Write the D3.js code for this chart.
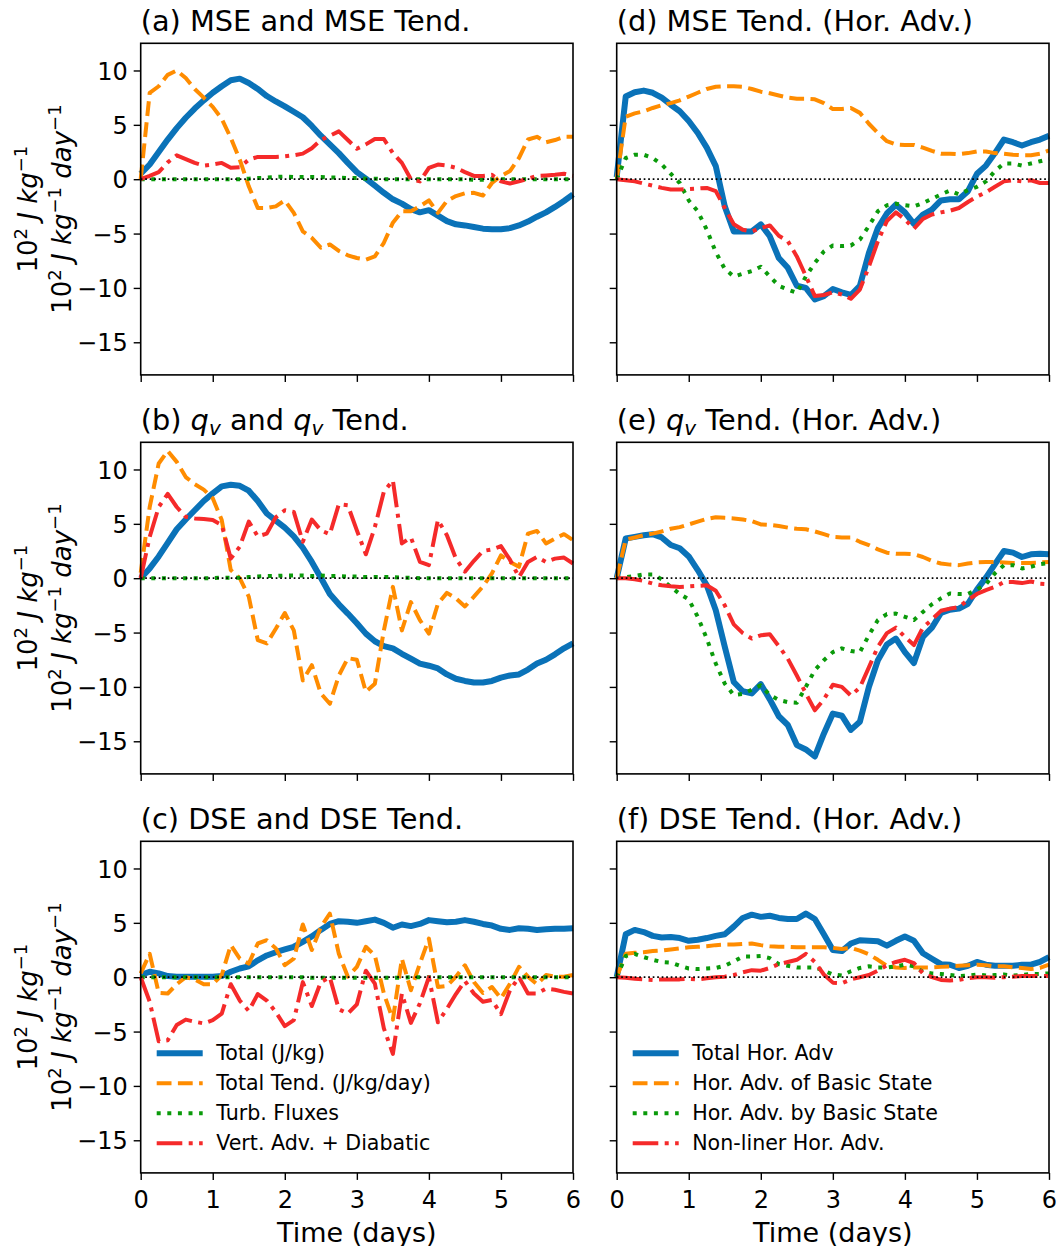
<!DOCTYPE html>
<html>
<head>
<meta charset="utf-8">
<script src="https://cdn.jsdelivr.net/npm/d3@7"></script>
<style>
  body { margin: 0; background: #fff; }
  text { font-family: "DejaVu Sans", sans-serif; fill: #000; }
</style>
</head>
<body>
<svg id="fig"></svg>
<script>
// tiempo en dias (cada 3 horas)
var days = [0, 0.125, 0.25, 0.375, 0.5, 0.625, 0.75, 0.875, 1, 1.125, 1.25, 1.375, 1.5, 1.625, 1.75, 1.875,
  2, 2.125, 2.25, 2.375, 2.5, 2.625, 2.75, 2.875, 3, 3.125, 3.25, 3.375, 3.5, 3.625, 3.75, 3.875,
  4, 4.125, 4.25, 4.375, 4.5, 4.625, 4.75, 4.875, 5, 5.125, 5.25, 5.375, 5.5, 5.625, 5.75, 5.875, 6];

// (a) MSE
var mseTotal = [0.5, 1.35, 2.5, 3.65, 4.7, 5.65, 6.5, 7.25, 7.95, 8.55, 9.1, 9.25, 8.85, 8.3, 7.65, 7.15,
  6.7, 6.2, 5.7, 4.9, 4.0, 3.2, 2.4, 1.5, 0.65, 0.05, -0.6, -1.25, -1.85, -2.25, -2.75, -3.05,
  -2.85, -3.35, -3.85, -4.15, -4.25, -4.4, -4.55, -4.6, -4.6, -4.5, -4.25, -3.9, -3.45, -3.05, -2.55, -2.0, -1.4];
var mseTend = [0, 7.95, 8.55, 9.6, 10.0, 9.3, 8.3, 7.5, 6.65, 5.55, 3.8, 1.8, -0.65, -2.65, -2.65, -2.5,
  -1.95, -3.1, -4.8, -5.4, -6.3, -6.0, -6.6, -7.0, -7.25, -7.4, -7.1, -5.85, -4.0, -2.95, -2.95, -2.5,
  -1.95, -3.1, -2.0, -1.55, -1.3, -1.25, -1.5, -0.35, 0.3, 0.75, 1.95, 3.65, 3.9, 3.4, 3.6, 3.9, 3.9];
var mseTurb = [0, 0, 0, 0, 0, 0, 0, 0, 0, 0, 0, 0, 0.05, 0.1, 0.15, 0.2,
  0.25, 0.2, 0.2, 0.2, 0.2, 0.15, 0.15, 0.1, 0.1, 0.05, 0.05, 0, 0, 0, 0, 0,
  0, 0, 0, 0, 0, -0.05, -0.05, 0, 0, 0, 0, 0, 0, 0, 0, 0, 0];
var mseVert = [0, 0.3, 0.65, 1.55, 2.2, 1.85, 1.5, 1.25, 1.35, 1.5, 1.05, 1.1, 1.8, 2.05, 2.05, 2.05,
  2.1, 2.2, 2.35, 2.85, 3.6, 4.0, 4.4, 3.6, 2.8, 3.2, 3.7, 3.7, 2.4, 1.5, 0, -0.2,
  1.05, 1.35, 1.25, 1.05, 0.65, 0.3, 0.3, 0.4, -0.2, -0.4, -0.2, 0.05, 0.3, 0.35, 0.4, 0.5, 0.3];

// (b) qv
var qvTotal = [0, 0.9, 2.0, 3.25, 4.5, 5.4, 6.25, 7.1, 7.8, 8.45, 8.6, 8.5, 8.05, 7.1, 5.95, 5.3,
  4.65, 3.85, 2.8, 1.5, 0.05, -1.45, -2.4, -3.25, -4.15, -5.1, -5.8, -6.25, -6.45, -6.95, -7.4, -7.85,
  -8.05, -8.3, -8.85, -9.25, -9.45, -9.6, -9.6, -9.45, -9.15, -8.95, -8.85, -8.4, -7.85, -7.5, -7.0, -6.45, -6.0];
var qvTend = [0.5, 6.55, 10.55, 11.7, 10.7, 9.3, 8.65, 8.15, 7.35, 5.35, 0.75, 0, -1.7, -5.7, -6.0, -4.65,
  -3.2, -4.8, -9.4, -8.0, -10.6, -11.55, -8.95, -7.35, -7.5, -10.45, -9.7, -4.8, -0.8, -4.8, -2.2, -3.85,
  -5.1, -2.35, -1.35, -1.85, -2.6, -1.7, -0.75, 0.45, 2.1, 1.5, 1.05, 4.1, 4.35, 3.2, 3.65, 4.05, 3.5];
var qvTurb = [0, 0, 0, 0, 0, 0, 0, 0, 0, 0.05, 0.05, 0.05, 0.1, 0.15, 0.2, 0.2,
  0.25, 0.25, 0.25, 0.2, 0.25, 0.2, 0.2, 0.15, 0.15, 0.1, 0.1, 0.1, 0.1, 0.05, 0.05, 0,
  0, 0, 0, 0, 0, 0, 0, 0, 0, 0, 0, 0, 0, 0, 0, 0, 0];
var qvVert = [0, 3.8, 6.55, 7.75, 6.55, 5.65, 5.5, 5.45, 5.35, 4.9, 1.8, 2.9, 5.2, 3.85, 4.1, 5.6,
  6.25, 6.1, 3.35, 5.4, 4.4, 4.05, 6.8, 6.7, 4.4, 2.2, 4.7, 7.95, 9.0, 3.2, 3.75, 1.5,
  1.2, 5.35, 3.95, 1.8, 0.6, 1.6, 2.5, 2.65, 2.95, 1.7, 0.1, 1.5, 1.95, 1.5, 1.8, 1.9, 1.35];

// (c) DSE
var dseTotal = [0.2, 0.5, 0.35, 0.1, 0.05, 0.05, 0.05, 0.05, 0.05, 0.1, 0.5, 0.8, 1.0, 1.55, 2.0, 2.3,
  2.55, 2.8, 3.25, 3.75, 4.35, 4.9, 5.15, 5.1, 5.0, 5.15, 5.3, 5.0, 4.55, 4.85, 4.7, 4.9,
  5.25, 5.15, 5.05, 5.1, 5.25, 5.1, 4.9, 4.75, 4.45, 4.35, 4.5, 4.45, 4.35, 4.4, 4.45, 4.45, 4.5];
var dseTend = [0.35, 2.15, -1.45, -1.5, -0.65, 0, -0.2, -0.65, -0.65, 0.2, 2.95, 1.7, 1.25, 3.1, 3.4, 2.65,
  1.1, 1.7, 4.85, 2.5, 4.6, 5.85, 2.15, 0.05, 0.95, 2.8, 2.0, -1.5, -3.9, 1.7, -1.2, 1.25,
  3.55, -0.9, -0.8, 0.05, 1.1, -0.45, -1.45, -0.9, -1.95, -0.6, 0.95, 0.05, -0.65, 0.2, 0.05, 0.05, 0.2];
var dseTurb = [0, 0, 0, 0, 0, 0, 0, 0, 0, 0, 0, 0, 0, 0, 0, 0,
  0, 0, 0, -0.05, -0.05, -0.05, -0.05, -0.05, -0.05, -0.05, -0.05, -0.05, -0.05, -0.05, 0, 0,
  0, 0, 0, 0, 0, 0, 0, 0, 0, 0, 0, 0, 0, 0, 0, 0, 0];
var dseVert = [0, -2.25, -5.9, -5.8, -4.4, -3.9, -4.1, -4.25, -3.95, -3.35, -0.65, -2.15, -3.1, -1.55, -2.15, -3.2,
  -4.5, -3.95, -0.45, -2.65, -0.45, 0, -2.95, -3.35, -2.5, 0.6, -0.6, -4.7, -7.05, -1.5, -4.2, -2.4,
  0, -4.15, -2.9, -1.55, -0.35, -1.5, -2.25, -2.1, -3.4, -1.2, 0, -1.5, -1.5, -1.05, -1.15, -1.35, -1.5];

// (d) MSE Hor. Adv.
var mseHorTotal = [0.2, 7.6, 8.0, 8.15, 7.95, 7.5, 6.85, 6.25, 5.35, 4.25, 2.9, 1.2, -2.5, -4.8, -4.8, -4.8,
  -4.15, -5.25, -7.25, -8.15, -9.8, -10.0, -11.05, -10.75, -10.1, -10.4, -10.65, -9.8, -6.8, -4.5, -3.15, -2.35,
  -3.05, -4.1, -3.25, -2.8, -1.95, -1.85, -1.85, -1.1, 0.5, 1.25, 2.4, 3.65, 3.4, 3.1, 3.4, 3.65, 4.0];
var mseHorOf = [0, 5.75, 6.05, 6.25, 6.55, 6.8, 7.0, 7.25, 7.6, 7.95, 8.3, 8.5, 8.55, 8.55, 8.5, 8.3,
  8.05, 7.9, 7.7, 7.5, 7.4, 7.4, 7.35, 7.0, 6.45, 6.45, 6.55, 6.1, 5.1, 4.25, 3.5, 3.2,
  3.15, 3.15, 2.9, 2.6, 2.35, 2.35, 2.3, 2.4, 2.55, 2.55, 2.4, 2.35, 2.25, 2.2, 2.2, 2.35, 2.65];
var mseHorBy = [0, 1.95, 2.25, 2.25, 1.95, 1.35, 0.5, -0.35, -1.95, -2.95, -4.65, -6.7, -8.25, -8.95, -8.7, -8.45,
  -8.05, -8.95, -9.8, -10.15, -10.45, -8.95, -7.7, -6.65, -6.1, -6.15, -6.1, -5.55, -4.3, -2.95, -2.4, -2.25,
  -2.4, -2.5, -2.2, -1.8, -1.4, -1.05, -1.4, -1.0, -0.7, -0.2, 0.75, 1.45, 1.45, 1.25, 1.45, 1.65, 1.85];
var mseHorNl = [0, -0.1, -0.2, -0.4, -0.6, -0.8, -0.95, -0.95, -0.9, -0.85, -0.8, -1.1, -2.65, -4.15, -4.65, -4.8,
  -4.5, -4.25, -5.2, -5.7, -7.1, -8.9, -10.75, -10.65, -10.4, -10.6, -11.0, -10.15, -8.05, -5.7, -3.85, -3.05,
  -3.7, -4.55, -3.65, -3.25, -3.05, -2.9, -2.65, -2.1, -1.6, -1.2, -0.7, -0.2, -0.1, -0.2, -0.1, -0.35, -0.35];

// (e) qv Hor. Adv.
var qvHorTotal = [0, 3.65, 3.8, 3.95, 4.05, 3.75, 3.05, 2.75, 2.0, 0.75, -0.65, -2.95, -6.3, -9.55, -10.4, -10.6,
  -9.75, -11.15, -12.7, -13.5, -15.35, -15.75, -16.4, -14.3, -12.45, -12.65, -13.95, -13.2, -10.0, -7.55, -6.1, -5.55,
  -6.8, -7.8, -5.4, -4.55, -3.2, -2.9, -2.8, -2.35, -1.05, 0.05, 1.3, 2.5, 2.35, 1.95, 2.2, 2.25, 2.2];
var qvHorOf = [0, 3.55, 3.75, 3.95, 4.1, 4.3, 4.55, 4.7, 4.95, 5.2, 5.45, 5.6, 5.55, 5.5, 5.4, 5.25,
  4.95, 4.9, 4.8, 4.65, 4.55, 4.5, 4.3, 4.05, 3.8, 3.75, 3.75, 3.35, 3.05, 2.65, 2.35, 2.25,
  2.25, 2.2, 1.95, 1.6, 1.35, 1.25, 1.2, 1.35, 1.45, 1.5, 1.5, 1.45, 1.4, 1.4, 1.4, 1.45, 1.5];
var qvHorBy = [0, 0.1, 0.2, 0.35, 0.35, -0.1, -0.8, -1.45, -1.95, -3.55, -5.55, -7.85, -9.7, -10.75, -10.65, -10.25,
  -9.85, -10.75, -11.2, -11.4, -11.45, -10.0, -8.45, -7.55, -6.8, -6.45, -6.7, -6.8, -5.25, -3.85, -3.3, -3.25,
  -3.55, -3.85, -3.1, -2.4, -1.85, -1.4, -1.45, -1.45, -1.05, -0.55, 0.45, 1.2, 1.2, 0.9, 1.05, 1.3, 1.4];
var qvHorNl = [0, 0, -0.1, -0.25, -0.5, -0.65, -0.75, -0.8, -0.75, -0.7, -0.65, -1.15, -2.5, -4.25, -5.05, -5.55,
  -5.25, -5.15, -6.25, -7.4, -8.95, -10.6, -12.15, -11.15, -9.8, -10.0, -10.8, -10.05, -8.2, -6.3, -5.05, -4.55,
  -5.4, -6.15, -4.55, -3.8, -3.0, -2.8, -2.65, -2.0, -1.45, -1.1, -0.8, -0.35, -0.35, -0.45, -0.3, -0.5, -0.55];

// (f) DSE Hor. Adv.
var dseHorTotal = [0, 3.95, 4.35, 4.15, 3.8, 3.65, 3.7, 3.6, 3.35, 3.45, 3.6, 3.8, 3.95, 4.65, 5.45, 5.75,
  5.55, 5.65, 5.45, 5.35, 5.35, 5.85, 5.35, 3.95, 2.5, 2.4, 3.1, 3.4, 3.35, 3.3, 2.9, 3.35,
  3.75, 3.35, 2.2, 1.7, 1.2, 1.15, 0.85, 1.05, 1.4, 1.15, 1.05, 1.05, 1.05, 1.15, 1.15, 1.4, 1.85];
var dseHorOf = [0, 2.15, 2.25, 2.3, 2.4, 2.45, 2.55, 2.65, 2.75, 2.8, 2.85, 2.95, 3.0, 3.0, 3.05, 3.1,
  2.95, 2.85, 2.8, 2.8, 2.75, 2.75, 2.75, 2.75, 2.7, 2.6, 2.7, 2.45, 2.1, 1.6, 1.05, 0.9,
  0.85, 0.9, 0.9, 0.9, 0.95, 1.0, 1.05, 1.1, 1.15, 1.1, 1.0, 1.0, 0.9, 0.85, 0.75, 0.85, 1.15];
var dseHorBy = [0, 1.95, 2.15, 1.85, 1.6, 1.4, 1.35, 1.05, 0.8, 0.75, 0.8, 0.85, 1.05, 1.45, 1.9, 1.9,
  1.95, 1.75, 1.2, 1.05, 0.9, 0.9, 0.9, 0.6, 0.25, 0.15, 0.55, 0.85, 1.0, 0.9, 0.9, 1.0,
  1.15, 1.0, 0.5, 0.35, 0.3, 0.2, 0.1, 0.15, 0.25, 0.15, 0.2, 0.25, 0.15, 0.2, 0.3, 0.3, 0.35];
var dseHorNl = [0, -0.05, -0.15, -0.2, -0.25, -0.2, -0.2, -0.2, -0.15, -0.2, -0.1, 0, 0.05, 0.2, 0.45, 0.65,
  0.6, 0.85, 1.2, 1.4, 1.6, 2.15, 1.4, 0.25, -0.5, -0.55, -0.2, 0, 0.2, 0.6, 1.1, 1.4,
  1.6, 1.3, 0.35, 0, -0.25, -0.3, -0.25, -0.1, 0, 0, -0.05, 0, 0.05, 0.1, 0.1, 0.1, 0.1];

// textos
var titulos = ["(a) MSE and MSE Tend.", "(b) qv and qv Tend.", "(c) DSE and DSE Tend.",
  "(d) MSE Tend. (Hor. Adv.)", "(e) qv Tend. (Hor. Adv.)", "(f) DSE Tend. (Hor. Adv.)"];
var leyendaIzq = ["Total (J/kg)", "Total Tend. (J/kg/day)", "Turb. Fluxes", "Vert. Adv. + Diabatic"];
var leyendaDer = ["Total Hor. Adv", "Hor. Adv. of Basic State", "Hor. Adv. by Basic State", "Non-liner Hor. Adv."];
var xTicks = [0, 1, 2, 3, 4, 5, 6];
var yTicks = [-15, -10, -5, 0, 5, 10];

// estilos de las cuatro series (color, grosor, trazo)
var estilos = [
  { color: "#0a72b8", width: 6, dash: null },
  { color: "#ff8c00", width: 4, dash: "14.8,6.4" },
  { color: "#0a9a0a", width: 4, dash: "4,6.6" },
  { color: "#f52a2a", width: 4, dash: "25.6,6.4,4,6.4" }
];

var paneles = [
  { col: 0, row: 0, series: [mseTotal, mseTend, mseTurb, mseVert] },
  { col: 0, row: 1, series: [qvTotal, qvTend, qvTurb, qvVert] },
  { col: 0, row: 2, series: [dseTotal, dseTend, dseTurb, dseVert], leyenda: leyendaIzq },
  { col: 1, row: 0, series: [mseHorTotal, mseHorOf, mseHorBy, mseHorNl] },
  { col: 1, row: 1, series: [qvHorTotal, qvHorOf, qvHorBy, qvHorNl] },
  { col: 1, row: 2, series: [dseHorTotal, dseHorOf, dseHorBy, dseHorNl], leyenda: leyendaDer }
];

var ancho = 1060, alto = 1246;
var izq = [140.7, 616.7];
var arriba = [43.3, 442.3, 841.3];
var W = 432.3, H = 331.6;

var svg = d3.select("#fig").attr("width", ancho).attr("height", alto);
svg.append("rect").attr("width", ancho).attr("height", alto).attr("fill", "#fff");

var x = d3.scaleLinear().domain([0, 6]).range([0, W]);
var y = d3.scaleLinear().domain([-18, 12.5]).range([H, 0]);

var linea = d3.line()
  .x(function (d, i) { return x(days[i]); })
  .y(function (d) { return y(d); });

function menos(d) { return d < 0 ? "\u2212" + Math.abs(d) : String(d); }

paneles.forEach(function (p, idx) {
  var g = svg.append("g").attr("transform", "translate(" + izq[p.col] + "," + arriba[p.row] + ")");

  // ejes
  var ax = d3.axisBottom(x).tickValues(xTicks).tickSize(7).tickPadding(8)
    .tickFormat(p.row == 2 ? d3.format("d") : "");
  var gx = g.append("g").attr("transform", "translate(0," + H + ")").call(ax);
  var ay = d3.axisLeft(y).tickValues(yTicks).tickSize(7).tickPadding(6)
    .tickFormat(p.col == 0 ? menos : "");
  var gy = g.append("g").call(ay);
  [gx, gy].forEach(function (a) {
    a.select(".domain").remove();
    a.selectAll(".tick line").attr("stroke", "#000").attr("stroke-width", 1.4);
    a.selectAll(".tick text").style("font-size", "24px").attr("fill", "#000");
  });
  gx.selectAll(".tick text").attr("dy", null).attr("y", 35);
  gy.selectAll(".tick text").attr("dy", "0.36em");

  // series
  p.series.forEach(function (s, k) {
    var e = estilos[k];
    g.append("path")
      .datum(s)
      .attr("d", linea)
      .attr("fill", "none")
      .attr("stroke", e.color)
      .attr("stroke-width", e.width)
      .attr("stroke-linejoin", "round")
      .attr("stroke-dasharray", e.dash);
  });

  // linea de cero
  g.append("line")
    .attr("x1", 0).attr("x2", W)
    .attr("y1", y(0)).attr("y2", y(0))
    .attr("stroke", "#000").attr("stroke-width", 1.7)
    .attr("stroke-dasharray", "1.7,2.8");

  // marco
  g.append("rect").attr("width", W).attr("height", H)
    .attr("fill", "none").attr("stroke", "#000").attr("stroke-width", 1.6);

  // titulo
  var t = g.append("text").attr("x", 0).attr("y", -12.5).style("font-size", "28.8px");
  var txt = titulos[idx];
  if (txt.indexOf("qv") >= 0) {
    var partes = txt.split("qv");
    partes.forEach(function (parte, j) {
      var sp = t.append("tspan").text(parte);
      if (j > 0) sp.attr("dy", -5);
      if (j < partes.length - 1) {
        t.append("tspan").attr("font-style", "italic").text("q");
        t.append("tspan").attr("font-style", "italic").attr("dy", 5).style("font-size", "20px").text("v");
      }
    });
  } else {
    t.text(txt);
  }

  // etiqueta del eje y
  if (p.col == 0) {
    var cy = H / 2;
    [[36.5, false], [71, true]].forEach(function (cfg) {
      var lab = g.append("text")
        .attr("transform", "translate(" + (cfg[0] - izq[0]) + "," + cy + ") rotate(-90)")
        .attr("text-anchor", "middle")
        .style("font-size", "26px");
      lab.append("tspan").text("10");
      lab.append("tspan").attr("dy", -10).style("font-size", "18px").text("2");
      lab.append("tspan").attr("dy", 10).attr("font-style", "italic").text(" J kg");
      lab.append("tspan").attr("dy", -10).style("font-size", "18px").text("\u22121");
      if (cfg[1]) {
        lab.append("tspan").attr("dy", 10).attr("font-style", "italic").text(" day");
        lab.append("tspan").attr("dy", -10).style("font-size", "18px").text("\u22121");
      }
    });
  }

  // etiqueta del eje x
  if (p.row == 2) {
    g.append("text").attr("x", W / 2).attr("y", H + 69)
      .attr("text-anchor", "middle").style("font-size", "27px").text("Time (days)");
  }

  // leyenda
  if (p.leyenda) {
    p.leyenda.forEach(function (nombre, k) {
      var e = estilos[k];
      var ly = 212 + k * 30;
      g.append("line")
        .attr("x1", 16).attr("x2", 62).attr("y1", ly).attr("y2", ly)
        .attr("stroke", e.color).attr("stroke-width", e.width)
        .attr("stroke-dasharray", e.dash);
      g.append("text").attr("x", 75.5).attr("y", ly + 7)
        .style("font-size", "20.6px").text(nombre);
    });
  }
});
</script>
</body>
</html>
